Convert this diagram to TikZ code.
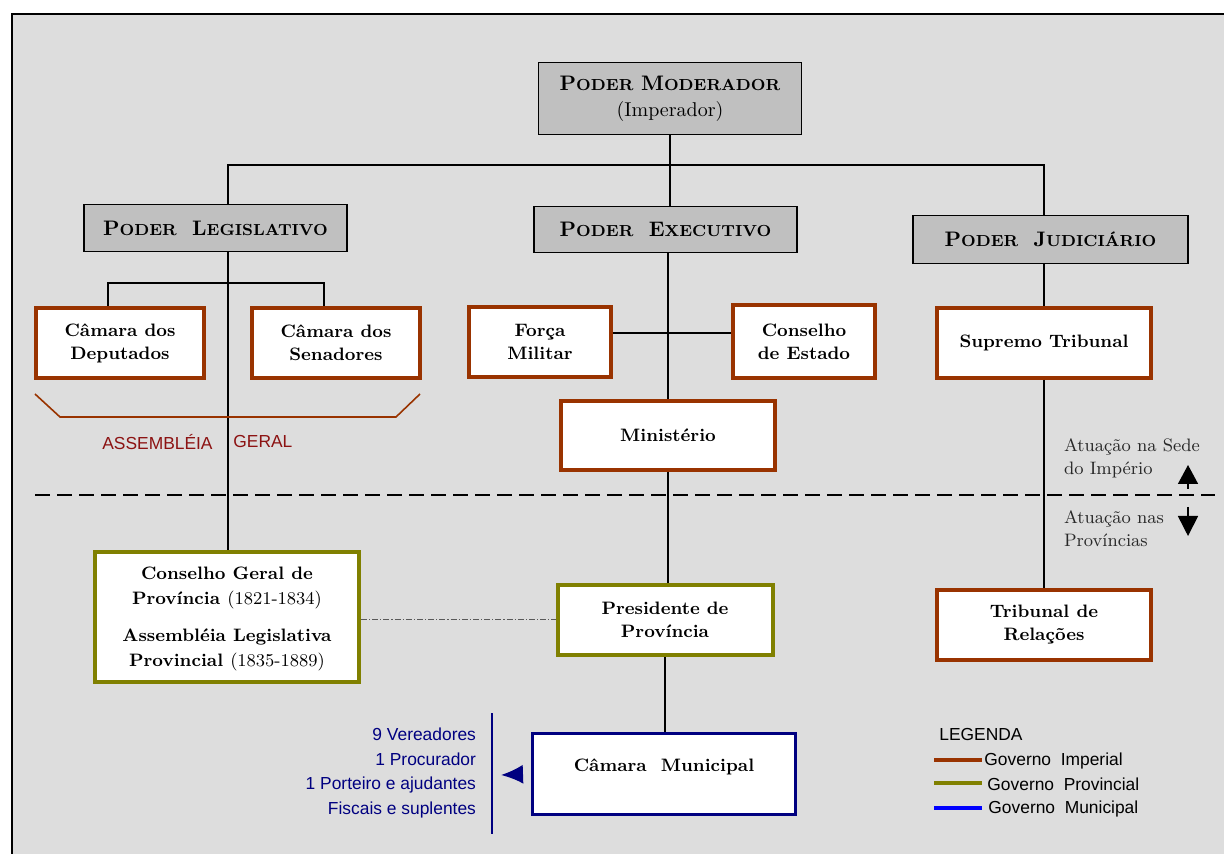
\documentclass[tikz,border=0pt]{standalone}
\usepackage{fontspec}
\newfontfamily\arialf{Liberation Sans}
\usepackage{xcolor}
\usetikzlibrary{arrows.meta, positioning}

\definecolor{panelgray}{RGB}{221,221,221}
\definecolor{powergray}{RGB}{192,192,192}
\definecolor{imperialc}{RGB}{153,51,0}
\definecolor{provincialc}{RGB}{128,128,0}
\definecolor{municipalc}{RGB}{0,0,128}
\definecolor{legendblue}{RGB}{0,0,255}
\definecolor{geralred}{RGB}{140,18,18}
\definecolor{notegray}{RGB}{40,40,40}

% fake bold small caps
\newcommand{\smcap}[2]{{\fontsize{10.5}{12}\selectfont #1}{\fontsize{8}{12}\selectfont #2}}

\begin{document}
\begin{tikzpicture}[
    x=0.5pt, y=-0.5pt,
    power/.style={draw=black, fill=powergray, line width=0.8pt, align=center, font=\bfseries},
    govbox/.style={fill=white, line width=2pt, align=center, font=\bfseries\fontsize{9}{11.5}\selectfont},
    imperial/.style={govbox, draw=imperialc},
    provincial/.style={govbox, draw=provincialc},
    municipal/.style={govbox, draw=municipalc, line width=1.6pt},
    conn/.style={draw=black, line width=0.85pt},
    sans/.style={font=\arialf\fontsize{8.7}{12.25}\selectfont},
    note/.style={align=left, text=notegray, font=\fontsize{9}{11.5}\selectfont},
    swatch/.style={line width=2pt}
]
\useasboundingbox (0,0) rectangle (1224,854);
\clip (0,0) rectangle (1224,854);
\fill[white] (0,0) rectangle (1224,854);
\draw[line width=0.85pt, fill=panelgray] (12,14) rectangle (1240,870);

% POWERS
\node[power, minimum width=131.5pt, minimum height=36pt] (mod) at (670,98.5)
    {\smcap{P}{ODER} \smcap{M}{ODERADOR}\\[1pt]{\mdseries\fontsize{10}{12}\selectfont(Imperador)}};
\node[power, minimum width=131.5pt, minimum height=23.5pt] (leg) at (215.5,228)
    {\smcap{P}{ODER}\ \ \smcap{L}{EGISLATIVO}};
\node[power, minimum width=131.5pt, minimum height=23pt] (exe) at (665.5,229.5)
    {\smcap{P}{ODER}\ \ \smcap{E}{XECUTIVO}};
\node[power, minimum width=137.5pt, minimum height=24pt] (jud) at (1050.5,239.5)
    {\smcap{P}{ODER}\ \ \smcap{J}{UDICIÁRIO}};

% IMPERIAL GOVERNMENT
\node[imperial, minimum width=84pt, minimum height=35pt] (dep) at (120,343) {Câmara dos\\Deputados};
\node[imperial, minimum width=84pt, minimum height=35pt] (sen) at (336,343) {Câmara dos\\Senadores};
\node[imperial, minimum width=71pt, minimum height=35pt] (forca) at (540,342) {Força\\Militar};
\node[imperial, minimum width=71pt, minimum height=36.5pt] (cest) at (804,341.5) {Conselho\\de Estado};
\node[imperial, minimum width=107pt, minimum height=34.5pt] (min) at (668,435.5) {Ministério};
\node[imperial, minimum width=107pt, minimum height=35pt] (sup) at (1044,343) {Supremo Tribunal};
\node[imperial, minimum width=107pt, minimum height=35pt] (rel) at (1044,625) {Tribunal de\\Relações};

% PROVINCIAL GOVERNMENT
\node[provincial, minimum width=132pt, minimum height=65pt, text depth=0pt, font=\bfseries\fontsize{9}{12.5}\selectfont] (cgp) at (227,617)
    {Conselho Geral de\\Província {\mdseries (1821-1834)}\\[6pt]Assembléia Legislativa\\Provincial {\mdseries (1835-1889)}};
\node[provincial, minimum width=107.5pt, minimum height=35pt] (pres) at (665,620) {Presidente de\\Província};

% MUNICIPAL GOVERNMENT
\node[municipal, minimum width=131.5pt, minimum height=40.5pt, text depth=8.5pt] (cmun) at (664,774) {Câmara~ Municipal};
\node[sans, text=municipalc, align=right, anchor=east] (staff) at (483,773)
    {9 Vereadores\\1 Procurador\\1 Porteiro e ajudantes\\Fiscais e suplentes};
\coordinate (arrtip) at (501,775);

% Connections
\coordinate (busL) at (228,165);
\coordinate (busR) at (1044,165);
\coordinate (chamb) at (0,283);
\draw[conn] (busL |- leg.north) -- (busL) -- (busR) -- (busR |- jud.north);
\draw[conn] (mod.south) -- (mod.south |- exe.north);
\draw[conn] (busL |- leg.south) -- (busL |- cgp.north);
\draw[conn] ([xshift=-6pt]dep.north) -- ([xshift=-6pt]dep.north |- chamb) -- ([xshift=-6pt]sen.north |- chamb) -- ([xshift=-6pt]sen.north);
\draw[conn] (min.north |- exe.south) -- (min.north);
\draw[conn] ([yshift=4.5pt]forca.east) -- ([yshift=4.5pt]forca.east -| cest.west);
\draw[conn] (min.south) -- (min.south |- pres.north);
\draw[conn] (pres.south) -- (pres.south |- cmun.north);
\draw[conn] (busR |- jud.south) -- (sup.north);
\draw[conn] (sup.south) -- (rel.north);
\draw[gray!70!black, line width=0.5pt, dash pattern=on 3pt off 1pt on 0.6pt off 1pt] ([yshift=-1pt]cgp.east) -- ([yshift=-1pt]cgp.east -| pres.west);
\draw[municipalc, line width=1pt, shorten <=4pt, -{Latex[length=11pt, width=9.5pt]}] (cmun.west) -- (arrtip);
\draw[municipalc, line width=1pt] (492,713) -- (492,834);

% ASSEMBLEIA GERAL
\draw[imperialc, line width=0.8pt] (35,394) -- (60,417) -- (396,417) -- (420,394);
\node[sans, text=geralred, anchor=east, inner sep=0pt] (assemb) at (213,442) {ASSEMBLÉIA};
\node[sans, text=geralred, anchor=west, inner sep=0pt] (geral) at (233,442) {GERAL};

% SEDE / PROVINCIAS
\draw[line width=1pt, dash pattern=on 7.5pt off 3.5pt] (35,495) -- (1215,495);
\node[note, anchor=west] (sede) at (1057,458) {Atuação na Sede\\do Império};
\node[note, anchor=west] (provs) at (1057,529) {Atuação nas\\Províncias};
\coordinate (upfrom) at (1188,489);
\coordinate (upto) at (1188,465);
\coordinate (dnfrom) at (1188,507);
\coordinate (dnto) at (1188,536);
\draw[line width=0.8pt, -{Triangle[length=9.5pt, width=10pt]}] (upfrom) -- (upto);
\draw[line width=0.8pt, -{Triangle[length=10pt, width=10pt]}] (dnfrom) -- (dnto);

% LEGENDA
\node[sans, anchor=west, inner sep=0pt] (legenda) at (939,735) {LEGENDA};
\draw[swatch, imperialc] (934,760) -- (982,760);
\draw[swatch, provincialc] (934,783) -- (982,783);
\draw[swatch, legendblue] (934,808) -- (982,808);
\node[sans, anchor=west, inner sep=0pt] (limp) at (984,761) {Governo~ Imperial};
\node[sans, anchor=west, inner sep=0pt] (lprov) at (987,784) {Governo~ Provincial};
\node[sans, anchor=west, inner sep=0pt] (lmun) at (988,809) {Governo~ Municipal};

\end{tikzpicture}
\end{document}
